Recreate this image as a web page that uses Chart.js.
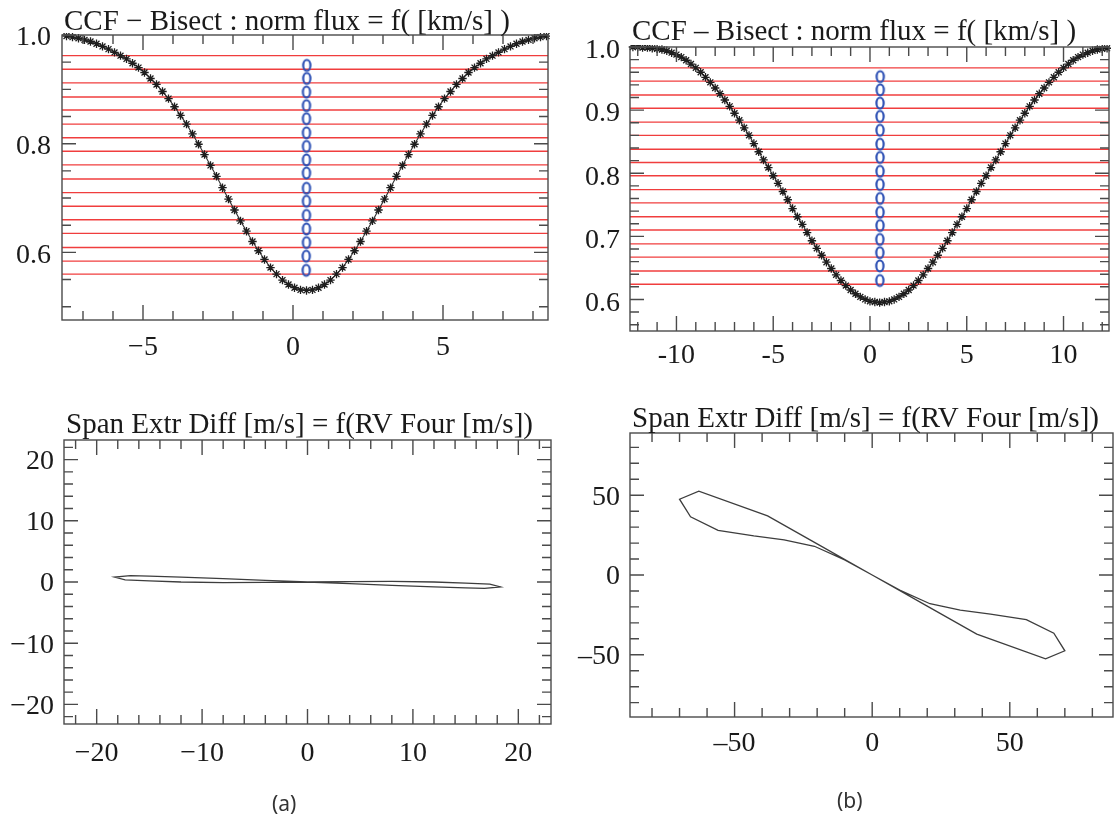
<!DOCTYPE html>
<html>
<head>
<meta charset="utf-8">
<title>CCF bisector / span</title>
<script src="https://cdn.jsdelivr.net/npm/chart.js@4.4.1/dist/chart.umd.min.js"></script>
<style>
  body { margin: 0; background: #fff; }
  #page { position: relative; width: 1116px; height: 825px; overflow: hidden; }
  canvas { position: absolute; }
  .lab { position: absolute; font: 21px "Noto Sans", sans-serif; color: #333; }
</style>
</head>
<body>
<div id="page">
  <canvas id="ccfA" width="556" height="380" style="left:0;top:0"></canvas>
  <canvas id="ccfB" width="556" height="390" style="left:560px;top:0"></canvas>
  <canvas id="spanA" width="560" height="400" style="left:0;top:390px"></canvas>
  <canvas id="spanB" width="556" height="400" style="left:560px;top:390px"></canvas>
  <div class="lab" style="left:272px;top:789px">(a)</div>
  <div class="lab" style="left:837px;top:786px">(b)</div>
</div>
<script>
//===== data

// (a) top : CCF, norm flux vs velocity [km/s]
const velA = [-7.55, -7.35, -7.15, -6.95, -6.75, -6.55, -6.35, -6.15, -5.95, -5.75, -5.55, -5.35, -5.15, -4.95,
  -4.75, -4.55, -4.35, -4.15, -3.95, -3.75, -3.55, -3.35, -3.15, -2.95, -2.75, -2.55, -2.35, -2.15, -1.95,
  -1.75, -1.55, -1.35, -1.15, -0.95, -0.75, -0.55, -0.35, -0.15, 0.05, 0.25, 0.45, 0.65, 0.85, 1.05, 1.25,
  1.45, 1.65, 1.85, 2.05, 2.25, 2.45, 2.65, 2.85, 3.05, 3.25, 3.45, 3.65, 3.85, 4.05, 4.25, 4.45, 4.65, 4.85,
  5.05, 5.25, 5.45, 5.65, 5.85, 6.05, 6.25, 6.45, 6.65, 6.85, 7.05, 7.25, 7.45, 7.65, 7.85, 8.05, 8.25, 8.45];
const fluxA = [0.998, 0.996, 0.994, 0.991, 0.988, 0.984, 0.979, 0.974, 0.968, 0.962, 0.956, 0.948, 0.940, 0.931,
  0.920, 0.909, 0.896, 0.883, 0.868, 0.852, 0.836, 0.818, 0.799, 0.780, 0.760, 0.740, 0.719, 0.698, 0.678,
  0.658, 0.639, 0.620, 0.603, 0.587, 0.572, 0.560, 0.549, 0.541, 0.535, 0.531, 0.530, 0.531, 0.535, 0.541,
  0.549, 0.560, 0.572, 0.587, 0.603, 0.620, 0.639, 0.658, 0.678, 0.698, 0.719, 0.740, 0.760, 0.780, 0.799,
  0.818, 0.836, 0.852, 0.868, 0.883, 0.896, 0.909, 0.920, 0.931, 0.940, 0.948, 0.956, 0.962, 0.968, 0.974,
  0.979, 0.984, 0.988, 0.991, 0.994, 0.996, 0.998];
const levelsA = [0.962, 0.937, 0.912, 0.886, 0.862, 0.836, 0.811, 0.786, 0.761, 0.735, 0.710, 0.685, 0.660,
  0.635, 0.609, 0.584, 0.560];
const bisVelA = [0.46, 0.46, 0.45, 0.45, 0.45, 0.45, 0.45, 0.45, 0.45, 0.45, 0.45, 0.45, 0.45, 0.45, 0.44, 0.44];
const bisFluxA = [0.944, 0.920, 0.895, 0.870, 0.846, 0.820, 0.795, 0.770, 0.746, 0.718, 0.694, 0.668, 0.643,
  0.618, 0.593, 0.567];
const xRangeA = [-7.7, 8.5];
const yRangeA = [0.4756, 1.0];
const xTicksA = [-5, 0, 5];
const yTicksA = [0.6, 0.8, 1.0];

// (b) top
const velB = [-12.25, -12, -11.75, -11.5, -11.25, -11, -10.75, -10.5, -10.25, -10, -9.75, -9.5, -9.25, -9,
  -8.75, -8.5, -8.25, -8, -7.75, -7.5, -7.25, -7, -6.75, -6.5, -6.25, -6, -5.75, -5.5, -5.25, -5, -4.75, -4.5,
  -4.25, -4, -3.75, -3.5, -3.25, -3, -2.75, -2.5, -2.25, -2, -1.75, -1.5, -1.25, -1, -0.75, -0.5, -0.25, 0,
  0.25, 0.5, 0.75, 1, 1.25, 1.5, 1.75, 2, 2.25, 2.5, 2.75, 3, 3.25, 3.5, 3.75, 4, 4.25, 4.5, 4.75, 5, 5.25,
  5.5, 5.75, 6, 6.25, 6.5, 6.75, 7, 7.25, 7.5, 7.75, 8, 8.25, 8.5, 8.75, 9, 9.25, 9.5, 9.75, 10, 10.25, 10.5,
  10.75, 11, 11.25, 11.5, 11.75, 12, 12.25];
const fluxB = [1.000, 1.000, 0.999, 0.999, 0.998, 0.997, 0.996, 0.994, 0.991, 0.988, 0.984, 0.979, 0.973,
  0.967, 0.960, 0.952, 0.944, 0.935, 0.926, 0.916, 0.906, 0.895, 0.884, 0.872, 0.860, 0.847, 0.834, 0.821,
  0.809, 0.796, 0.784, 0.771, 0.758, 0.744, 0.731, 0.719, 0.706, 0.693, 0.681, 0.670, 0.659, 0.649, 0.639,
  0.630, 0.622, 0.615, 0.609, 0.604, 0.600, 0.597, 0.596, 0.595, 0.596, 0.597, 0.600, 0.604, 0.609, 0.615,
  0.622, 0.630, 0.639, 0.649, 0.659, 0.670, 0.681, 0.693, 0.706, 0.719, 0.731, 0.744, 0.758, 0.771, 0.784,
  0.796, 0.809, 0.821, 0.834, 0.847, 0.860, 0.872, 0.884, 0.895, 0.906, 0.916, 0.926, 0.935, 0.944, 0.952,
  0.960, 0.967, 0.973, 0.979, 0.984, 0.988, 0.991, 0.994, 0.996, 0.997, 0.998];
const levelsB = [0.967, 0.946, 0.924, 0.903, 0.881, 0.860, 0.838, 0.817, 0.796, 0.774, 0.753, 0.731, 0.710,
  0.688, 0.667, 0.645, 0.624];
const bisVelB = [0.53, 0.53, 0.52, 0.52, 0.52, 0.52, 0.52, 0.52, 0.52, 0.52, 0.52, 0.52, 0.51, 0.51, 0.51, 0.51];
const bisFluxB = [0.953, 0.932, 0.911, 0.890, 0.868, 0.846, 0.825, 0.803, 0.782, 0.760, 0.738, 0.717, 0.695,
  0.674, 0.653, 0.630];
const xRangeB = [-12.4, 12.35];
const yRangeB = [0.55, 1.0];
const xTicksB = [-10, -5, 0, 5, 10];
const yTicksB = [0.6, 0.7, 0.8, 0.9, 1.0];

// (a) bottom : Span Extr Diff vs RV Four [m/s]
const rvC = [0, -4, -8, -12, -15, -16.8, -18.3, -17.3, -15, -12, -8, -4, 0, 4, 8, 12, 15, 17.3, 18.3, 16.8,
  15, 12, 8, 4, 0];
const spanC = [0, 0.28, 0.55, 0.8, 0.97, 1.05, 0.8, 0.35, 0.2, 0.0, -0.1, -0.06, 0, 0.06, 0.1, 0.0, -0.2,
  -0.35, -0.8, -1.05, -0.97, -0.8, -0.55, -0.28, 0];
const rangeC = [-23.1, 23.1];
const yRangeC = [-23.2, 23.2];
const ticksC = [-20, -10, 0, 10, 20];

// (b) bottom
const rvD = [0, -20, -38, -63, -70, -66, -56, -43, -32, -21, -10, 0, 10, 21, 32, 43, 56, 66, 70, 63, 38, 20, 0];
const spanD = [0, 19.5, 37, 52.5, 47.5, 36.5, 28, 24.5, 22, 18, 9.5, 0, -9.5, -18, -22, -24.5, -28, -36.5,
  -47.5, -52.5, -37, -19.5, 0];
const rangeD = [-88, 87.5];
const yRangeD = [-89, 89];
const ticksD = [-50, 0, 50];

//===== drawing

const FONT = '"Liberation Serif", "Times New Roman", serif';

// walk minor tick values, flag the major ones
function eachTick(min, max, step, major, fn) {
  for (let k = Math.ceil(min / step - 1e-6); k * step <= max + 1e-6; k++) {
    const v = k * step;
    const r = v / major;
    fn(v, Math.abs(r - Math.round(r)) < 1e-6);
  }
}

// closed frame with inward ticks on all four sides, plus the title
const boxTicks = {
  id: 'boxTicks',
  afterDraw(chart, args, o) {
    const ctx = chart.ctx, a = chart.chartArea;
    const sx = chart.scales.x, sy = chart.scales.y;
    ctx.save();
    ctx.strokeStyle = '#4a4a4a';
    ctx.lineWidth = 1.4;
    ctx.strokeRect(a.left, a.top, a.right - a.left, a.bottom - a.top);
    ctx.beginPath();
    eachTick(sx.min, sx.max, o.xMinor, o.xMajor, (v, major) => {
      const p = sx.getPixelForValue(v), L = major ? 15 : 9;
      ctx.moveTo(p, a.bottom); ctx.lineTo(p, a.bottom - L);
      ctx.moveTo(p, a.top); ctx.lineTo(p, a.top + L);
    });
    eachTick(sy.min, sy.max, o.yMinor, o.yMajor, (v, major) => {
      const p = sy.getPixelForValue(v), L = major ? 14 : 9;
      ctx.moveTo(a.left, p); ctx.lineTo(a.left + L, p);
      ctx.moveTo(a.right, p); ctx.lineTo(a.right - L, p);
    });
    ctx.stroke();
    ctx.fillStyle = '#1a1a1a';
    ctx.font = '29px ' + FONT;
    ctx.textAlign = 'left';
    ctx.textBaseline = 'alphabetic';
    ctx.fillText(o.title, a.left + 2, a.top - o.titleGap);
    ctx.restore();
  }
};
Chart.register(boxTicks);

// open blue "0" used for the bisector points
const ring = document.createElement('canvas');
ring.width = 12; ring.height = 16;
(function () {
  const c = ring.getContext('2d');
  c.strokeStyle = '#2f52b5';
  c.lineWidth = 2.2;
  c.beginPath();
  c.ellipse(6, 8, 3.6, 5.5, 0, 0, Math.PI * 2);
  c.stroke();
})();

const minus = v => (v < 0 ? '\u2212' + Math.abs(v) : String(v));
const dash = v => (v < 0 ? '\u2013' + Math.abs(v) : String(v));
const oneDec = v => v.toFixed(1);

function axis(range, ticks, fmt, size, pad, isX, offset) {
  return {
    type: 'linear',
    min: range[0],
    max: range[1],
    grid: { display: false, drawTicks: false },
    border: { display: false },
    afterBuildTicks: s => { s.ticks = ticks.map(v => ({ value: v })); },
    afterFit: s => { if (isX) s.height = size; else s.width = size; },
    ticks: {
      callback: fmt, padding: pad, labelOffset: offset || 0, color: '#1a1a1a',
      autoSkip: false, maxRotation: 0, font: { family: FONT, size: 28 }
    }
  };
}

function options(p) {
  return {
    responsive: false,
    animation: false,
    events: [],
    layout: { padding: p.pad },
    plugins: { legend: { display: false }, tooltip: { enabled: false }, boxTicks: p.frame },
    scales: { x: p.x, y: p.y }
  };
}

function ccfChart(id, o) {
  const lines = o.levels.map(v => ({
    data: [{ x: o.xr[0], y: v }, { x: o.xr[1], y: v }],
    showLine: true, borderColor: 'rgba(238,40,40,0.9)', borderWidth: 1.4, pointRadius: 0, order: 3
  }));
  return new Chart(document.getElementById(id), {
    type: 'scatter',
    data: {
      datasets: [
        {
          data: o.vel.map((v, i) => ({ x: v, y: o.flux[i] })),
          showLine: true, borderColor: '#333', backgroundColor: '#1e1e1e', borderWidth: 1.1,
          pointStyle: 'star', pointRadius: 4.2, pointBorderWidth: 1.3, pointBorderColor: '#1e1e1e',
          order: 1, clip: 2
        },
        {
          data: o.bisVel.map((v, i) => ({ x: v, y: o.bisFlux[i] })),
          pointStyle: ring, pointRadius: 6, order: 0
        }
      ].concat(lines)
    },
    options: options(o)
  });
}

function spanChart(id, o) {
  return new Chart(document.getElementById(id), {
    type: 'scatter',
    data: {
      datasets: [{
        data: o.rv.map((v, i) => ({ x: v, y: o.span[i] })),
        showLine: true, borderColor: '#3d3d3d', borderWidth: 1.3, pointRadius: 0, tension: 0
      }]
    },
    options: options(o)
  });
}

ccfChart('ccfA', {
  vel: velA, flux: fluxA, levels: levelsA, bisVel: bisVelA, bisFlux: bisFluxA, xr: xRangeA,
  pad: { left: 0, top: 35, right: 8, bottom: 0 },
  x: axis(xRangeA, xTicksA, minus, 60, 11, true),
  y: axis(yRangeA, yTicksA, oneDec, 62, 11, false, 3),
  frame: { title: 'CCF \u2212 Bisect : norm flux = f( [km/s] )', titleGap: 5, xMinor: 1, xMajor: 5, yMinor: 0.05, yMajor: 0.2 }
});

ccfChart('ccfB', {
  vel: velB, flux: fluxB, levels: levelsB, bisVel: bisVelB, bisFlux: bisFluxB, xr: xRangeB,
  pad: { left: 0, top: 47, right: 3, bottom: 0 },
  x: axis(xRangeB, xTicksB, v => String(v), 59, 8, true),
  y: axis(yRangeB, yTicksB, oneDec, 70, 10, false, 4),
  frame: { title: 'CCF \u2013 Bisect : norm flux = f( [km/s] )', titleGap: 7, xMinor: 1, xMajor: 5, yMinor: 0.02, yMajor: 0.1 }
});

spanChart('spanA', {
  rv: rvC, span: spanC,
  pad: { left: 0, top: 50, right: 9, bottom: 0 },
  x: axis(rangeC, ticksC, minus, 66, 13, true),
  y: axis(yRangeC, ticksC, minus, 64, 10, false, 2),
  frame: { title: 'Span Extr Diff [m/s] = f(RV Four [m/s])', titleGap: 7, xMinor: 2, xMajor: 10, yMinor: 2, yMajor: 10 }
});

spanChart('spanB', {
  rv: rvD, span: spanD,
  pad: { left: 0, top: 43, right: 3, bottom: 0 },
  x: axis(rangeD, ticksD, dash, 73, 10, true),
  y: axis(yRangeD, ticksD, dash, 70, 10, false, 2),
  frame: { title: 'Span Extr Diff [m/s] = f(RV Four [m/s])', titleGap: 6, xMinor: 10, xMajor: 50, yMinor: 10, yMajor: 50 }
});
</script>
</body>
</html>
